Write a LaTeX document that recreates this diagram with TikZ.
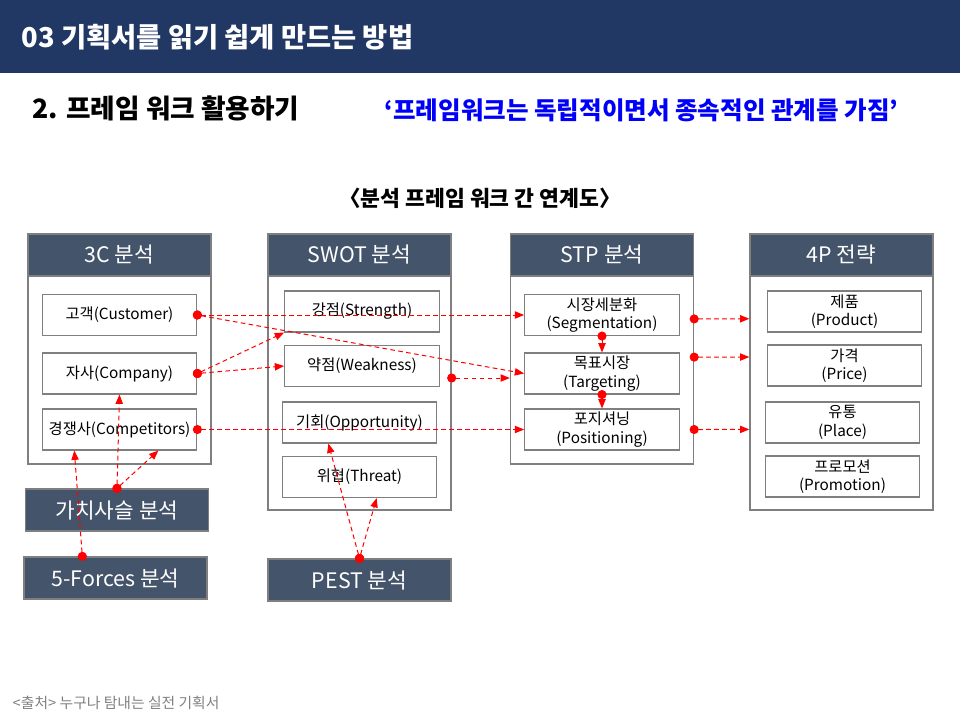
\documentclass[tikz,border=0pt]{standalone}
\usepackage{fontspec}
\setmainfont{Noto Sans CJK KR}
\usepackage{tikz}
\usetikzlibrary{calc,arrows.meta}
\definecolor{navy}{RGB}{33,56,100}
\definecolor{slate}{RGB}{68,84,106}
\definecolor{frame}{RGB}{127,127,127}
\definecolor{srcgray}{RGB}{128,128,128}
\definecolor{quoteblue}{RGB}{0,0,250}
\tikzset{
  panel/.style={draw=frame,line width=1pt,inner sep=0pt,minimum width=137.25pt,minimum height=#1},
  head/.style={draw=frame,line width=1pt,fill=slate,text=white,inner sep=0pt,
    minimum width=137.25pt,minimum height=31.5pt,font=\fontsize{16}{19}\selectfont},
  item/.style={draw=frame,line width=0.8pt,fill=white,inner sep=0pt,align=center,
    minimum width=116pt,minimum height=30.75pt,font=\fontsize{11.5}{14}\selectfont},
  conn/.style={red,line width=0.75pt,dash pattern=on 3.5pt off 2.5pt,shorten <=-3.4pt,
    {Circle[length=6.8pt]}-{Triangle[length=7pt,width=5.5pt]}}
}
\begin{document}
\begin{tikzpicture}[x=0.75pt,y=-0.75pt]
 \useasboundingbox (0,0) rectangle (960,722);
 \fill[navy] (0,0) rectangle (960,73);
 \node[anchor=west,text=white,font=\fontsize{20.5}{24}\selectfont\bfseries] (title) at (17,37) {03 기획서를 읽기 쉽게 만드는 방법};
 \node[anchor=west,font=\fontsize{20}{24}\selectfont\bfseries] (sub) at (28,108) {2. 프레임 워크 활용하기};
 \node[anchor=west,text=quoteblue,font=\fontsize{18.4}{22}\selectfont\bfseries] (quote) at (380,110) {‘프레임워크는 독립적이면서 종속적인 관계를 가짐’};
 \node[font=\fontsize{16.2}{19}\selectfont\bfseries] (cap) at (480,198) {〈분석 프레임 워크 간 연계도〉};
 \node[anchor=west,text=srcgray,font=\fontsize{11.1}{13}\selectfont] (src) at (8,703) {<출처> 누구나 탐내는 실전 기획서};

 \node[panel=172.5pt] (cc) at (119.5,349) {};
 \node[head] (cchead) at (119.5,255) {3C 분석};
 \node[item] (cust) at (119.5,315) {고객(Customer)};
 \node[item] (comp) at (119.5,373.5) {자사(Company)};
 \node[item] (rival) at (119.5,429.5) {경쟁사(Competitors)};
 \node[head] (vc) at (117,510) {가치사슬 분석};
 \node[head] (forces) at (115.5,578) {5-Forces 분석};

 \node[panel=207pt] (swot) at (359.5,372) {};
 \node[head] (swothead) at (359.5,255) {SWOT 분석};
 \node[item] (str) at (362,311.5) {강점(Strength)};
 \node[item] (weak) at (362,366) {약점(Weakness)};
 \node[item] (opp) at (359.5,422.5) {기회(Opportunity)};
 \node[item] (thr) at (359.5,477) {위협(Threat)};
 \node[head] (pest) at (359.5,580) {PEST 분석};

 \node[panel=172.5pt] (stp) at (602,349) {};
 \node[head] (stphead) at (602,255) {STP 분석};
 \node[item] (seg) at (602,315) {시장세분화\\(Segmentation)};
 \node[item] (tgt) at (602,373.5) {목표시장\\(Targeting)};
 \node[item] (pos) at (602,429.5) {포지셔닝\\(Positioning)};

 \node[panel=207pt] (fp) at (841.5,372) {};
 \node[head] (fphead) at (841.5,255) {4P 전략};
 \node[item] (prod) at (844.5,311.5) {제품\\(Product)};
 \node[item] (price) at (844.5,365.5) {가격\\(Price)};
 \node[item] (place) at (842.5,422.5) {유통\\(Place)};
 \node[item] (promo) at (842.5,476.5) {프로모션\\(Promotion)};

 \coordinate (sw) at ([yshift=-4.5pt]swot.east);
 \path[conn]
  (cust.east) edge (seg.west) edge (tgt.west)
  (comp.east) edge (str.south west) edge (weak.west)
  (rival.east) edge (pos.west)
  (sw) edge (sw -| stp.west)
  (seg.south) edge (tgt.north)
  (tgt.south) edge (pos.north)
  (vc.north) edge (comp.south) edge ($(rival.south)!.5!(rival.south east)$)
  ($(forces.north west)!.32!(forces.north east)$) edge ($(rival.south west)!.21!(rival.south east)$)
  (pest.north) edge ($(opp.south west)!.3!(opp.south east)$) edge ($(thr.south west)!.61!(thr.south east)$);
 \foreach \a/\b in {.37/.308,.535/.446,.848/.707}
  \path[conn] ($(stp.north east)!\a!(stp.south east)$) edge ($(fp.north west)!\b!(fp.south west)$);
\end{tikzpicture}
\end{document}
